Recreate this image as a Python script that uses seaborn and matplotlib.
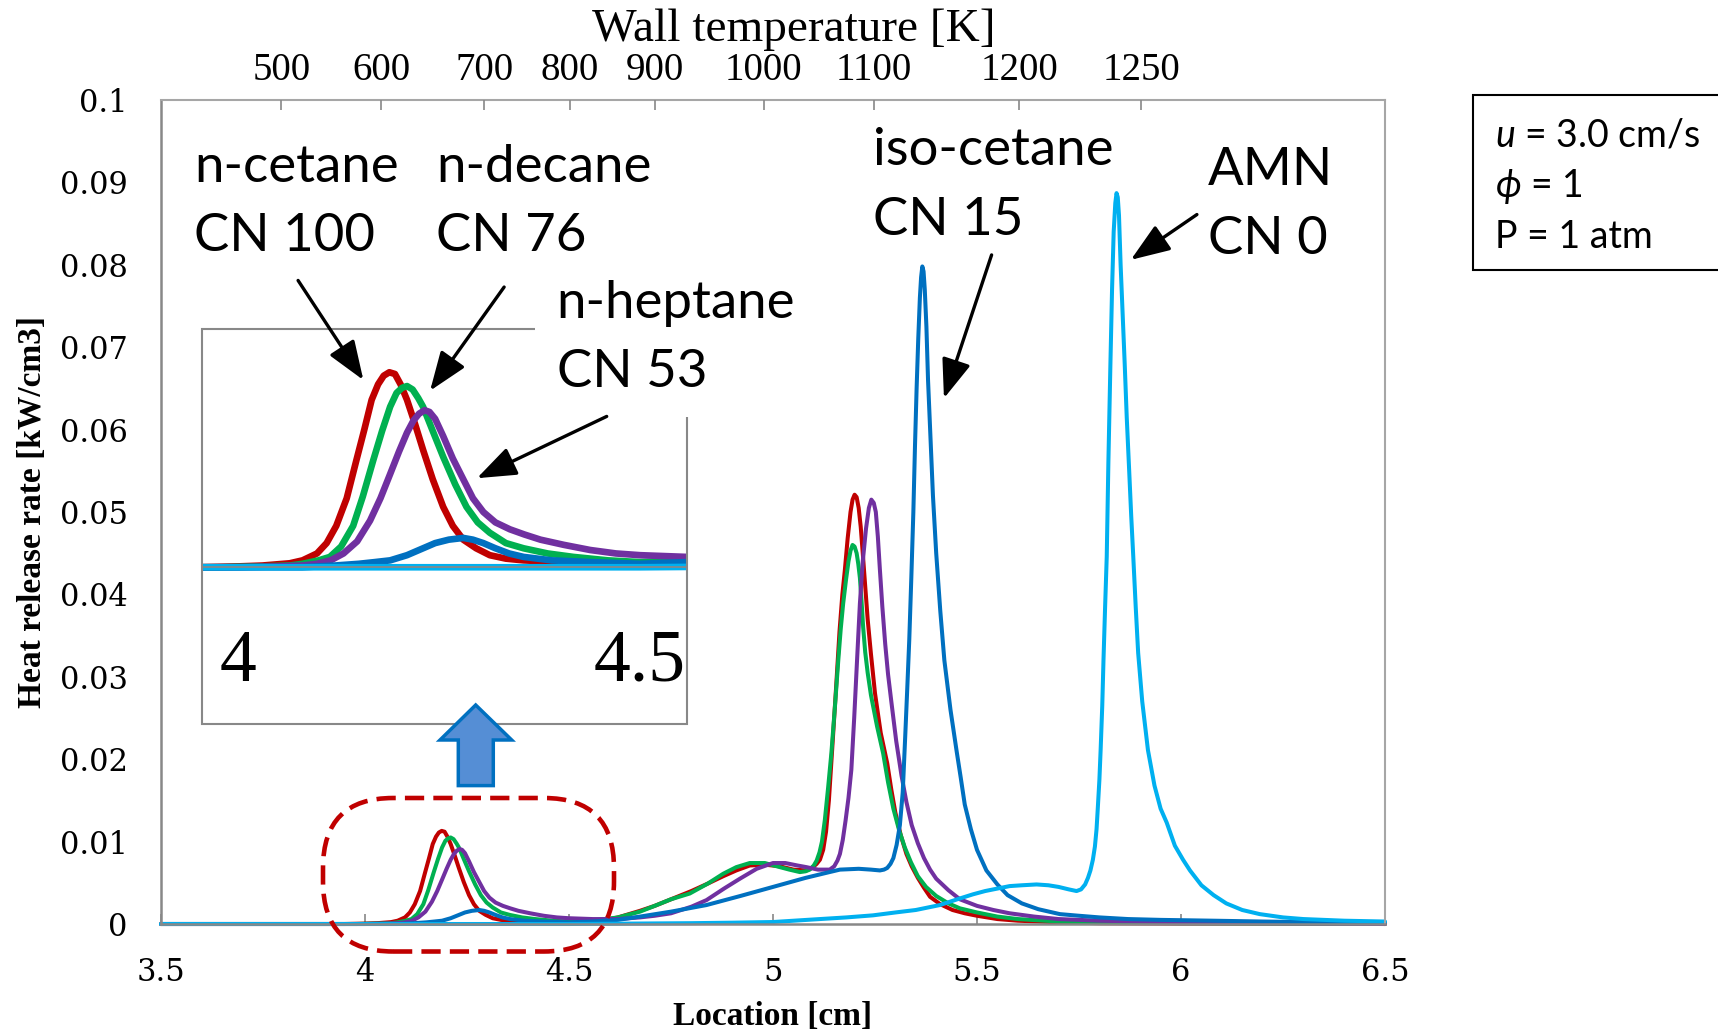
import matplotlib
matplotlib.use("Agg")
import matplotlib.pyplot as plt
import matplotlib.transforms as mtransforms
import pandas as pd
import seaborn as sns
from matplotlib.patches import Rectangle, FancyBboxPatch, Polygon, ConnectionPatch

# ---------------------------------------------------------------- data
fuels = ["n-cetane", "n-decane", "n-heptane", "iso-cetane", "AMN"]
fuel_colors = ["#C00000", "#00B050", "#7030A0", "#0070C0", "#00B0F0"]

n_cetane_x = [3.50, 3.95, 4.00, 4.03, 4.064, 4.08, 4.098, 4.11, 4.122, 4.135,
              4.147, 4.157, 4.166, 4.174, 4.181, 4.188, 4.195, 4.202, 4.210, 4.220,
              4.230, 4.242, 4.255, 4.267, 4.280, 4.296, 4.313, 4.333, 4.355, 4.40,
              4.45, 4.50, 4.55, 4.59, 4.62, 4.674, 4.71, 4.75, 4.80, 4.84,
              4.878, 4.91, 4.943, 4.98, 5.017, 5.05, 5.082, 5.095, 5.107, 5.115,
              5.123, 5.130, 5.137, 5.147, 5.155, 5.163, 5.170, 5.176, 5.183, 5.190,
              5.195, 5.200, 5.205, 5.210, 5.215, 5.220, 5.226, 5.232, 5.240, 5.250,
              5.264, 5.280, 5.290, 5.300, 5.313, 5.327, 5.340, 5.355, 5.370, 5.385,
              5.41, 5.44, 5.47, 5.50, 5.55, 5.60, 5.70, 5.80, 6.00, 6.50]
n_cetane_y = [0, 0, 0.00005, 0.0001, 0.00023, 0.0004, 0.0008, 0.0014, 0.0024, 0.0040,
              0.0062, 0.0080, 0.0097, 0.0106, 0.0111, 0.0113, 0.0112, 0.0106, 0.0097, 0.0083,
              0.0068, 0.0051, 0.0035, 0.0024, 0.0016, 0.0011, 0.0007, 0.0005, 0.0004, 0.0003,
              0.0002, 0.0002, 0.0003, 0.0005, 0.0008, 0.0016, 0.0022, 0.0030, 0.0040, 0.0049,
              0.0058, 0.0065, 0.0071, 0.0072, 0.0070, 0.0066, 0.0065, 0.0068, 0.0073, 0.0078,
              0.0090, 0.0112, 0.0150, 0.0227, 0.0290, 0.0355, 0.0400, 0.0429, 0.0468, 0.0500,
              0.0515, 0.0521, 0.0518, 0.0505, 0.0482, 0.0450, 0.0410, 0.0370, 0.0328, 0.0280,
              0.0232, 0.0195, 0.0163, 0.0135, 0.0108, 0.0085, 0.0070, 0.0056, 0.0044, 0.0033,
              0.0024, 0.0017, 0.0013, 0.0010, 0.0006, 0.0004, 0.0002, 0.0001, 0.00005, 0]

n_decane_x = [3.50, 3.98, 4.03, 4.064, 4.08, 4.10, 4.114, 4.128, 4.143, 4.155,
              4.168, 4.179, 4.189, 4.197, 4.204, 4.210, 4.217, 4.224, 4.230, 4.242,
              4.255, 4.270, 4.284, 4.298, 4.313, 4.333, 4.355, 4.385, 4.417, 4.46,
              4.50, 4.558, 4.59, 4.62, 4.674, 4.71, 4.75, 4.796, 4.84, 4.878,
              4.91, 4.943, 4.98, 5.017, 5.04, 5.066, 5.08, 5.090, 5.100, 5.107,
              5.114, 5.120, 5.127, 5.135, 5.143, 5.152, 5.160, 5.166, 5.172, 5.179,
              5.185, 5.190, 5.195, 5.200, 5.205, 5.209, 5.213, 5.217, 5.221, 5.226,
              5.232, 5.240, 5.255, 5.270, 5.282, 5.295, 5.309, 5.323, 5.338, 5.355,
              5.375, 5.40, 5.43, 5.458, 5.50, 5.55, 5.60, 5.70, 5.80, 6.00, 6.50]
n_decane_y = [0, 0, 0.00005, 0.0001, 0.0002, 0.0004, 0.0006, 0.0012, 0.0024, 0.0041,
              0.0062, 0.0079, 0.0093, 0.0101, 0.0104, 0.0105, 0.0103, 0.0098, 0.0093, 0.0079,
              0.0064, 0.0048, 0.0035, 0.0026, 0.0020, 0.0014, 0.0011, 0.0008, 0.0006, 0.0004,
              0.0003, 0.0004, 0.0006, 0.0008, 0.0015, 0.0022, 0.0030, 0.0037, 0.0049, 0.0061,
              0.0069, 0.0074, 0.0074, 0.0069, 0.0066, 0.0063, 0.0064, 0.0066, 0.0071, 0.0077,
              0.0087, 0.0100, 0.0126, 0.0165, 0.0207, 0.0265, 0.0320, 0.0358, 0.0389, 0.0418,
              0.0440, 0.0453, 0.0460, 0.0458, 0.0450, 0.0437, 0.0420, 0.0392, 0.0360, 0.0330,
              0.0305, 0.0278, 0.0240, 0.0207, 0.0172, 0.0140, 0.0114, 0.0093, 0.0075, 0.0058,
              0.0045, 0.0034, 0.0025, 0.0019, 0.0014, 0.0009, 0.0006, 0.0003, 0.0002, 0.0001, 0]

n_heptane_x = [3.50, 4.00, 4.05, 4.08, 4.098, 4.115, 4.131, 4.148, 4.164, 4.177,
               4.189, 4.200, 4.210, 4.218, 4.225, 4.232, 4.238, 4.245, 4.255, 4.267,
               4.280, 4.292, 4.305, 4.320, 4.338, 4.356, 4.376, 4.405, 4.438, 4.47,
               4.50, 4.558, 4.62, 4.674, 4.71, 4.75, 4.80, 4.837, 4.88, 4.919,
               4.96, 5.00, 5.03, 5.06, 5.082, 5.110, 5.139, 5.150, 5.158, 5.164,
               5.171, 5.178, 5.185, 5.192, 5.199, 5.206, 5.213, 5.220, 5.228, 5.235,
               5.241, 5.247, 5.252, 5.257, 5.262, 5.268, 5.275, 5.282, 5.290, 5.302,
               5.315, 5.327, 5.340, 5.355, 5.370, 5.385, 5.40, 5.43, 5.458, 5.50,
               5.54, 5.58, 5.64, 5.70, 5.80, 5.90, 6.05, 6.20, 6.50]
n_heptane_y = [0, 0, 0.00005, 0.0001, 0.0002, 0.0004, 0.0008, 0.0015, 0.0027, 0.0040,
               0.0054, 0.0067, 0.0078, 0.0085, 0.0089, 0.0091, 0.0090, 0.0086, 0.0076, 0.0063,
               0.0051, 0.0040, 0.0032, 0.0026, 0.0022, 0.0019, 0.0016, 0.0013, 0.0010, 0.0008,
               0.0007, 0.0006, 0.0006, 0.0008, 0.0010, 0.0013, 0.0021, 0.0029, 0.0043, 0.0055,
               0.0067, 0.0074, 0.0074, 0.0071, 0.0069, 0.0066, 0.0066, 0.0070, 0.0077, 0.0085,
               0.0102, 0.0126, 0.0153, 0.0187, 0.0250, 0.0320, 0.0389, 0.0440, 0.0480, 0.0505,
               0.0515, 0.0511, 0.0500, 0.0470, 0.0430, 0.0385, 0.0340, 0.0303, 0.0270, 0.0222,
               0.0180, 0.0148, 0.0120, 0.0098, 0.0080, 0.0066, 0.0055, 0.0041, 0.0030, 0.0022,
               0.0017, 0.0013, 0.0009, 0.0006, 0.0004, 0.0003, 0.0002, 0.0001, 0]

iso_cetane_x = [3.50, 4.08, 4.12, 4.15, 4.17, 4.189, 4.21, 4.230, 4.245, 4.262,
                4.280, 4.292, 4.305, 4.320, 4.337, 4.355, 4.39, 4.438, 4.50, 4.558,
                4.62, 4.674, 4.75, 4.837, 4.92, 5.00, 5.08, 5.13, 5.164, 5.21,
                5.24, 5.262, 5.272, 5.280, 5.288, 5.295, 5.303, 5.311, 5.318, 5.324,
                5.329, 5.334, 5.339, 5.344, 5.348, 5.352, 5.356, 5.360, 5.363, 5.366,
                5.369, 5.372, 5.376, 5.380, 5.386, 5.392, 5.400, 5.410, 5.420, 5.435,
                5.450, 5.460, 5.470, 5.485, 5.50, 5.523, 5.550, 5.575, 5.610, 5.65,
                5.703, 5.75, 5.80, 5.87, 5.95, 6.08, 6.20, 6.35, 6.50]
iso_cetane_y = [0, 0, 0.0001, 0.0002, 0.0003, 0.0004, 0.0007, 0.0011, 0.0014, 0.0016,
                0.0017, 0.0016, 0.0014, 0.0011, 0.0008, 0.0006, 0.0004, 0.0003, 0.0002, 0.0003,
                0.0005, 0.0009, 0.0015, 0.0023, 0.0034, 0.0045, 0.0056, 0.0062, 0.0066, 0.0067,
                0.0066, 0.0065, 0.0066, 0.0068, 0.0073, 0.0080, 0.0096, 0.0120, 0.0160, 0.0227,
                0.0285, 0.0345, 0.0420, 0.0500, 0.0580, 0.0650, 0.0710, 0.0760, 0.0785, 0.0798,
                0.0792, 0.0770, 0.0725, 0.0660, 0.0590, 0.0520, 0.0450, 0.0380, 0.0320, 0.0260,
                0.0210, 0.0178, 0.0145, 0.0115, 0.0090, 0.0065, 0.0048, 0.0035, 0.0025, 0.0018,
                0.0012, 0.0010, 0.0008, 0.0006, 0.0005, 0.0004, 0.0003, 0.0002, 0.0002]

amn_x = [3.50, 4.50, 4.65, 4.80, 4.90, 5.00, 5.115, 5.18, 5.245, 5.30,
         5.35, 5.409, 5.458, 5.49, 5.52, 5.55, 5.58, 5.61, 5.646, 5.675,
         5.70, 5.725, 5.744, 5.755, 5.765, 5.772, 5.778, 5.784, 5.789, 5.793,
         5.796, 5.800, 5.803, 5.807, 5.810, 5.814, 5.818, 5.822, 5.827, 5.831,
         5.835, 5.839, 5.842, 5.845, 5.848, 5.852, 5.857, 5.862, 5.867, 5.873,
         5.878, 5.883, 5.889, 5.895, 5.905, 5.919, 5.935, 5.950, 5.965, 5.985,
         6.005, 6.022, 6.05, 6.08, 6.111, 6.15, 6.193, 6.25, 6.30, 6.40,
         6.50]
amn_y = [0, 0, 0.00005, 0.0001, 0.00016, 0.00024, 0.0006, 0.0008, 0.00105, 0.0014,
         0.0017, 0.0023, 0.0031, 0.0036, 0.0040, 0.0043, 0.0046, 0.0047, 0.0048, 0.0047,
         0.0045, 0.0042, 0.0040, 0.0042, 0.0048, 0.0056, 0.0065, 0.0078, 0.0094, 0.0115,
         0.0140, 0.0175, 0.0211, 0.0265, 0.0320, 0.0385, 0.0446, 0.0560, 0.0680, 0.0770,
         0.0840, 0.0875, 0.0887, 0.0882, 0.0860, 0.0800, 0.0740, 0.0680, 0.0615, 0.0550,
         0.0495, 0.0446, 0.0385, 0.0329, 0.0270, 0.0211, 0.0168, 0.0140, 0.0123, 0.0095,
         0.0078, 0.0065, 0.0047, 0.0035, 0.0025, 0.0017, 0.0012, 0.0008, 0.0006, 0.0004,
         0.0003]

x_ticks = [3.5, 4.0, 4.5, 5.0, 5.5, 6.0, 6.5]
x_tick_labels = ["3.5", "4", "4.5", "5", "5.5", "6", "6.5"]
y_ticks = [0, 0.01, 0.02, 0.03, 0.04, 0.05, 0.06, 0.07, 0.08, 0.09, 0.1]
y_tick_labels = ["0", "0.01", "0.02", "0.03", "0.04", "0.05", "0.06", "0.07",
                 "0.08", "0.09", "0.1"]

# wall temperature at selected locations (secondary axis)
wall_temp_location = [3.795, 4.040, 4.292, 4.502, 4.711, 4.977, 5.248, 5.603, 5.903]
wall_temp_labels = ["500", "600", "700", "800", "900", "1000", "1100", "1200", "1250"]

inset_ticks = [4.0, 4.5]
inset_tick_labels = ["4", "4.5"]

series = [
    ("n-cetane", n_cetane_x, n_cetane_y),
    ("n-decane", n_decane_x, n_decane_y),
    ("n-heptane", n_heptane_x, n_heptane_y),
    ("iso-cetane", iso_cetane_x, iso_cetane_y),
    ("AMN", amn_x, amn_y),
]
df = pd.concat(
    [pd.DataFrame({"location": xs, "hrr": ys, "fuel": name}) for name, xs, ys in series],
    ignore_index=True,
)
palette = dict(zip(fuels, fuel_colors))

# ---------------------------------------------------------------- style
SERIF = "Liberation Serif"
TICKFONT = "DejaVu Serif"
SANS = ["Lato", "DejaVu Sans"]
GRAY = "#888888"
LIGHT = "#A6A6A6"

sns.set_theme(style="white", rc={"text.color": "black", "axes.labelcolor": "black",
                                 "xtick.color": "black", "ytick.color": "black"})
plt.rcParams["font.family"] = [SERIF, "DejaVu Serif"]
plt.rcParams["mathtext.fontset"] = "custom"
plt.rcParams["mathtext.it"] = "Lato:italic"
plt.rcParams["mathtext.rm"] = "Lato"
plt.rcParams["mathtext.fallback"] = "cm"

W, H = 1718, 1032
fig = plt.figure(figsize=(W / 100, H / 100), dpi=100)
fig.patch.set_facecolor("white")

# ---------------------------------------------------------------- main axes
ax = fig.add_axes([161 / W, 1 - 924 / H, 1224 / W, 824 / H])
sns.lineplot(data=df, x="location", y="hrr", hue="fuel", hue_order=fuels,
             palette=palette, estimator=None, sort=False, linewidth=2.9,
             legend=False, ax=ax)
for ln in ax.lines:
    ln.set_clip_on(False)
    ln.set_solid_joinstyle("round")

ax.set_xlim(3.5, 6.5)
ax.set_ylim(0, 0.1)
ax.set_xticks(x_ticks)
ax.set_xticklabels(x_tick_labels, fontfamily=TICKFONT, fontsize=22)
ax.set_yticks(y_ticks)
ax.set_yticklabels(y_tick_labels, fontfamily=TICKFONT, fontsize=22)
ax.tick_params(axis="both", direction="in", length=7.5, width=1.2, color=GRAY,
               labelcolor="black", pad=24)
for side in ("left", "bottom"):
    ax.spines[side].set_color(GRAY)
    ax.spines[side].set_linewidth(1.8)
for side in ("top", "right"):
    ax.spines[side].set_color(LIGHT)
    ax.spines[side].set_linewidth(1.5)

ax.set_xlabel("Location [cm]", fontfamily=SERIF, fontweight="bold", fontsize=24,
              va="center")
ax.xaxis.set_label_coords(0.5, -0.1117)
ax.set_ylabel("Heat release rate [kW/cm3]", fontfamily=SERIF, fontweight="bold",
              fontsize=24, va="center")
ax.yaxis.set_label_coords(-0.1046, 0.5)

# secondary temperature axis on top
ax2 = ax.twiny()
ax2.set_xlim(ax.get_xlim())
ax2.set_xticks(wall_temp_location)
ax2.set_xticklabels(wall_temp_labels, fontfamily=SERIF, fontsize=28)
ax2.tick_params(axis="x", direction="in", length=7.5, width=1.2, color=GRAY,
                labelcolor="black", pad=8)
for s in ax2.spines.values():
    s.set_visible(False)
ax2.set_xlabel("Wall temperature [K]", fontfamily=SERIF, fontsize=34, va="center")
ax2.xaxis.set_label_coords((794 - 161) / 1224, (924 - 30) / 824)

# ---------------------------------------------------------------- zoom inset
ax_in = fig.add_axes([202.3 / W, 1 - 724.3 / H, 484.4 / W, 395 / H])
ax_in.spines["bottom"].set_position(("data", 0))
sns.lineplot(data=df, x="location", y="hrr", hue="fuel", hue_order=fuels,
             palette=palette, estimator=None, sort=False, linewidth=4.8,
             legend=False, ax=ax_in)
for ln in ax_in.lines:
    ln.set_solid_joinstyle("round")
ax_in.set_xlim(3.9553, 4.558)
ax_in.set_ylim(-0.0091, 0.01379)
ax_in.set_xlabel("")
ax_in.set_ylabel("")
ax_in.set_yticks([])
ax_in.set_xticks(inset_ticks)
ax_in.tick_params(axis="x", direction="in", length=14, width=1.5, color=GRAY,
                  labelbottom=False)
ax_in.spines["bottom"].set_color(GRAY)
for side in ("left", "right", "top"):
    ax_in.spines[side].set_visible(False)
ax_in.add_patch(Rectangle((0, 0), 1, 1, transform=ax_in.transAxes, fill=False,
                          edgecolor=GRAY, linewidth=1.5, clip_on=False, zorder=5))
# large location labels under the inset ticks
tick_trans = mtransforms.blended_transform_factory(ax_in.transData, ax_in.transAxes)
for pos, txt in zip(inset_ticks, inset_tick_labels):
    ax_in.text(pos, 0.155, txt, transform=tick_trans, ha="center", va="center",
               fontfamily=SERIF, fontsize=53, color="black")

# ---------------------------------------------------------------- annotations
LABEL_FS = 38


def fx(px):
    return px / W


def fy(py):
    return 1 - py / H


label_kw = dict(fontsize=LABEL_FS, family=SANS, va="center", ha="left",
                linespacing=1.58, zorder=6)
fig.text(fx(194), fy(202), "n-cetane\nCN 100", **label_kw)
fig.text(fx(436), fy(202), "n-decane\nCN 76", **label_kw)
fig.text(fx(556.6), fy(338), "n-heptane\nCN 53",
         bbox=dict(boxstyle="square,pad=0.4", facecolor="white", edgecolor="none"),
         **label_kw)
fig.text(fx(873.3), fy(185.5), "iso-cetane\nCN 15", **label_kw)
fig.text(fx(1207.5), fy(205), "AMN\nCN 0", **label_kw)

arrow_kw = dict(arrowstyle="-|>,head_length=1.2,head_width=0.45", mutation_scale=20,
                color="black", linewidth=2.4, zorder=7, shrinkA=0, shrinkB=0)
# (tail in main data coords, head in inset or main data coords)
for tail, head, head_ax in [
    ((3.836, 0.0781), (4.1557, 0.01085), ax_in),
    ((4.341, 0.0773), (4.2387, 0.01023), ax_in),
    ((4.5924, 0.0616), (4.297, 0.00516), ax_in),
    ((5.5358, 0.0812), (5.419, 0.0638), ax),
    ((6.039, 0.0861), (5.877, 0.0806), ax),
]:
    fig.add_artist(ConnectionPatch(xyA=tail, coordsA=ax.transData, xyB=head,
                                   coordsB=head_ax.transData, **arrow_kw))

# dashed outline around the low-temperature peaks
box = FancyBboxPatch((fx(323), fy(951.5)), (614 - 323) / W, (951.5 - 798) / H,
                     boxstyle=f"round,pad=0,rounding_size={70 / W}",
                     mutation_aspect=W / H, transform=fig.transFigure,
                     fill=False, edgecolor="#C00000", linewidth=3.3,
                     linestyle=(0, (4.2, 2.0)), zorder=8)
fig.add_artist(box)

# block arrow pointing from the outline up to the inset
up_arrow = Polygon([(fx(475.7), fy(705)), (fx(511.7), fy(740)), (fx(493.3), fy(740)),
                    (fx(493.3), fy(785.6)), (fx(458.3), fy(785.6)), (fx(458.3), fy(740)),
                    (fx(440), fy(740))], closed=True, transform=fig.transFigure,
                   facecolor="#558ED5", edgecolor="#0070C0", linewidth=2.5,
                   joinstyle="miter", zorder=8)
fig.add_artist(up_arrow)

# operating conditions box
fig.add_artist(Rectangle((fx(1473.3), fy(270)), 0.2, 175 / H, transform=fig.transFigure,
                         facecolor="white", edgecolor="black", linewidth=1.5, zorder=6))
cond_kw = dict(fontsize=27, family=SANS, va="center", zorder=7)
fig.text(fx(1495), fy(135), r"$u$ = 3.0 cm/s", **cond_kw)
fig.text(fx(1495), fy(186.7), r"$\phi$ = 1", **cond_kw)
fig.text(fx(1495), fy(236.7), "P = 1 atm", **cond_kw)

fig.savefig("out.png", dpi=100, facecolor="white")
